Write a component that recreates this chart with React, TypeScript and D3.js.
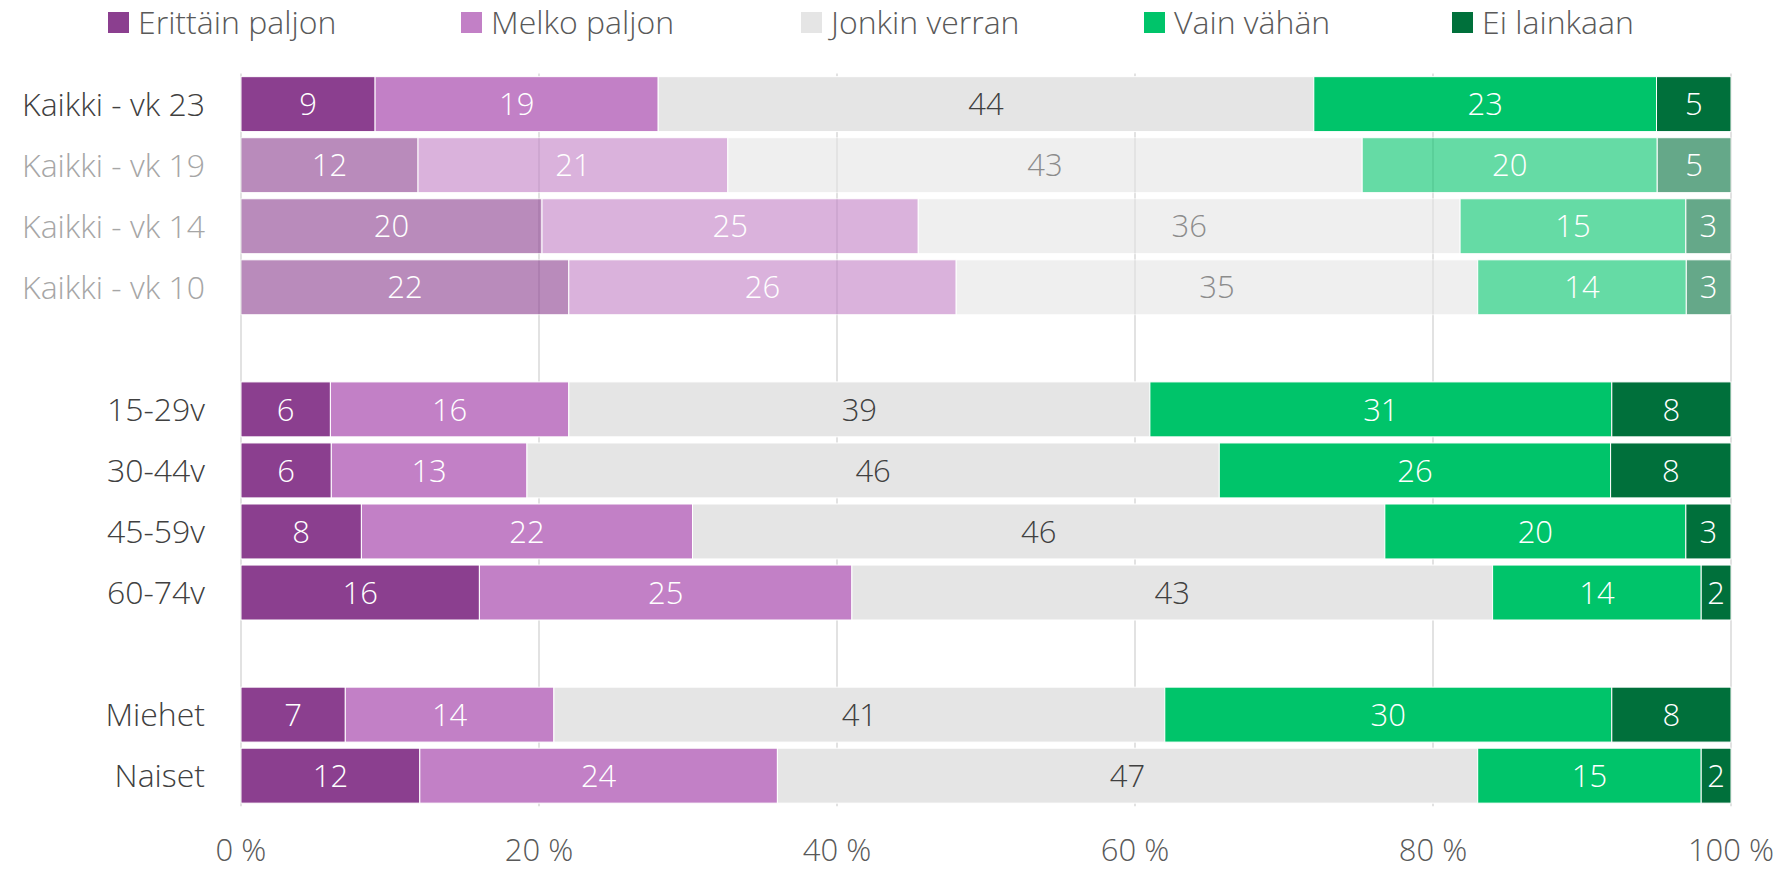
import * as d3 from "d3";

// rows, top to bottom (two blank slots separate the groups)
const categories = [
  "Kaikki - vk 23",
  "Kaikki - vk 19",
  "Kaikki - vk 14",
  "Kaikki - vk 10",
  "15-29v",
  "30-44v",
  "45-59v",
  "60-74v",
  "Miehet",
  "Naiset",
];
const slots = [
  "Kaikki - vk 23",
  "Kaikki - vk 19",
  "Kaikki - vk 14",
  "Kaikki - vk 10",
  "__gap1",
  "15-29v",
  "30-44v",
  "45-59v",
  "60-74v",
  "__gap2",
  "Miehet",
  "Naiset",
];
const fadedRows = ["Kaikki - vk 19", "Kaikki - vk 14", "Kaikki - vk 10"];

const seriesNames = ["Erittäin paljon", "Melko paljon", "Jonkin verran", "Vain vähän", "Ei lainkaan"];
const erittainPaljon = [9, 12, 20, 22, 6, 6, 8, 16, 7, 12];
const melkoPaljon = [19, 21, 25, 26, 16, 13, 22, 25, 14, 24];
const jonkinVerran = [44, 43, 36, 35, 39, 46, 46, 43, 41, 47];
const vainVahan = [23, 20, 15, 14, 31, 26, 20, 14, 30, 15];
const eiLainkaan = [5, 5, 3, 3, 8, 8, 3, 2, 8, 2];

const xTicks = [0, 20, 40, 60, 80, 100];

const colors = ["#8B3F8F", "#C280C6", "#E5E5E5", "#00C46A", "#00703B"];
const labelColors = ["#ffffff", "#ffffff", "#404040", "#ffffff", "#ffffff"];

const W = 1785;
const H = 871;
const FONT = "'Open Sans', 'Noto Sans', sans-serif";
const FS = 31;

// legend layout (swatch left edges)
const legendX = [108, 461, 801, 1144, 1452];

export default function App() {
  const margin = { left: 241, right: 54, top: 73.6, bottom: 64.8 };

  const table = categories.map((c, i) => ({
    category: c,
    [seriesNames[0]]: erittainPaljon[i],
    [seriesNames[1]]: melkoPaljon[i],
    [seriesNames[2]]: jonkinVerran[i],
    [seriesNames[3]]: vainVahan[i],
    [seriesNames[4]]: eiLainkaan[i],
  }));

  // each row is scaled to 100 %
  const stacked = d3
    .stack<any>()
    .keys(seriesNames)
    .offset(d3.stackOffsetExpand)(table);

  const x = d3
    .scaleLinear()
    .domain([0, 1])
    .range([margin.left, W - margin.right]);

  const y = d3
    .scaleBand()
    .domain(slots)
    .range([margin.top, H - margin.bottom])
    .paddingInner(0.1)
    .paddingOuter(0.05);

  const [top, bottom] = y.range();

  return (
    <svg
      width={W}
      height={H}
      style={{ position: "absolute", left: 0, top: 0, background: "#fff" }}
      fontFamily={FONT}
      fontWeight={300}
    >
      {/* legend */}
      {seriesNames.map((name, i) => (
        <g key={name} transform={`translate(${legendX[i]},0)`}>
          <rect x={0} y={12} width={21} height={21} fill={colors[i]} />
          <text x={30} y={34} fontSize={32} fill="#595959">
            {name}
          </text>
        </g>
      ))}

      {/* vertical gridlines */}
      {xTicks.map((t) => (
        <line
          key={t}
          x1={x(t / 100)}
          x2={x(t / 100)}
          y1={top}
          y2={bottom}
          stroke="#D9D9D9"
          strokeWidth={1.5}
        />
      ))}

      {/* bars */}
      {categories.map((cat, row) => {
        const faded = fadedRows.includes(cat);
        const yy = y(cat)!;
        const bh = y.bandwidth();
        return (
          <g key={cat} opacity={faded ? 0.6 : 1}>
            {stacked.map((s, si) => {
              const d = s[row];
              const x0 = x(d[0]);
              const x1 = x(d[1]);
              return (
                <g key={s.key}>
                  <rect
                    x={x0}
                    y={yy}
                    width={x1 - x0}
                    height={bh}
                    fill={colors[si]}
                    stroke="#fff"
                    strokeWidth={1}
                  />
                  <text
                    x={(x0 + x1) / 2}
                    y={yy + bh / 2}
                    dy="0.36em"
                    textAnchor="middle"
                    fontSize={FS}
                    fill={labelColors[si]}
                  >
                    {(d.data as any)[s.key]}
                  </text>
                </g>
              );
            })}
          </g>
        );
      })}

      {/* category labels */}
      {categories.map((cat) => (
        <text
          key={cat}
          x={margin.left - 36}
          y={y(cat)! + y.bandwidth() / 2}
          dy="0.36em"
          textAnchor="end"
          fontSize={32}
          fill={fadedRows.includes(cat) ? "#A6A6A6" : "#404040"}
        >
          {cat}
        </text>
      ))}

      {/* x axis labels */}
      {xTicks.map((t) => (
        <text
          key={t}
          x={x(t / 100)}
          y={861}
          textAnchor="middle"
          fontSize={FS}
          fill="#595959"
        >
          {`${t} %`}
        </text>
      ))}
    </svg>
  );
}
